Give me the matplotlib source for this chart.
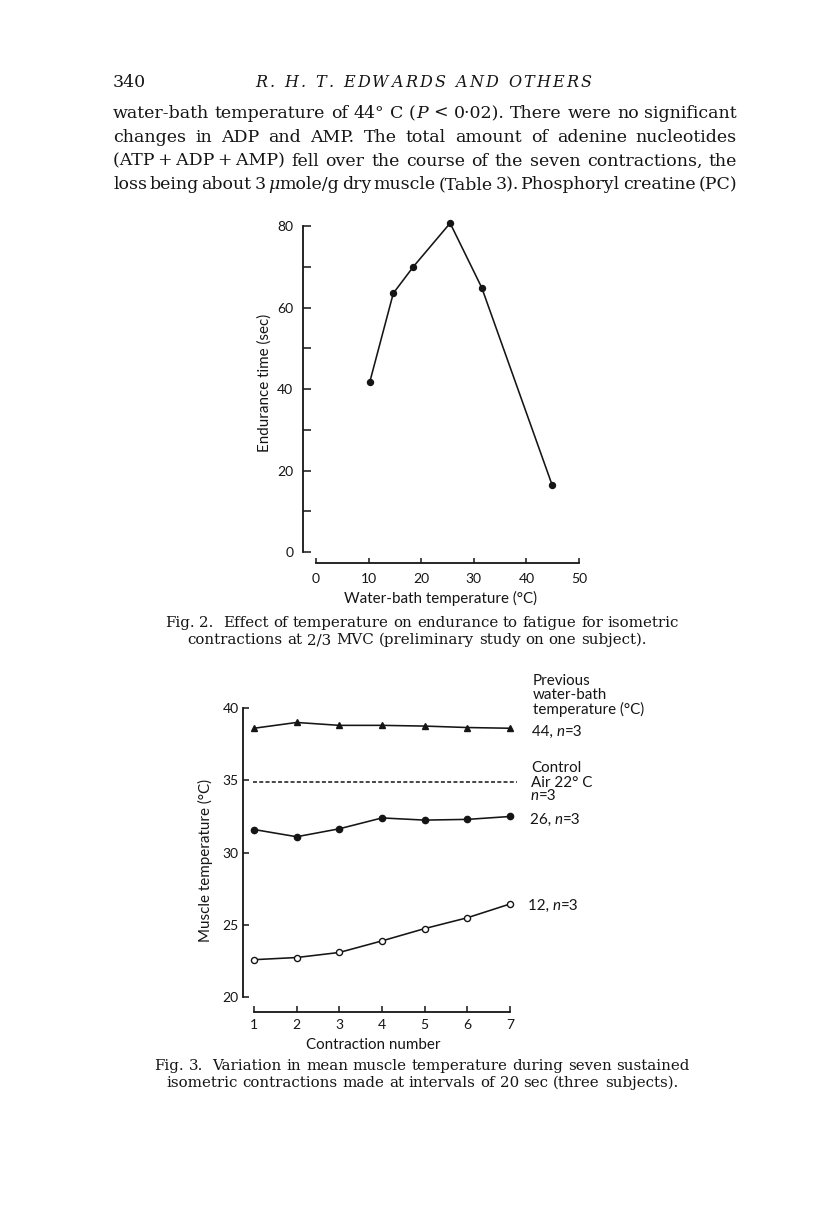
import matplotlib
matplotlib.use("Agg")
import matplotlib.pyplot as plt

W, H, DPI = 816, 1212, 100

# ---------------- data: Fig. 2 ----------------
fig2_temp = [10.2, 14.7, 18.5, 25.5, 31.5, 44.9]
fig2_endurance = [41.6, 63.5, 70.0, 80.7, 64.9, 16.4]
fig2_xticks = [0, 10, 20, 30, 40, 50]
fig2_yticks = [0, 20, 40, 60, 80]
fig2_yminor = [10, 30, 50, 70]

# ---------------- data: Fig. 3 ----------------
contraction = [1, 2, 3, 4, 5, 6, 7]
temp_44 = [38.6, 39.0, 38.8, 38.8, 38.75, 38.65, 38.6]
temp_26 = [31.6, 31.1, 31.65, 32.4, 32.25, 32.3, 32.5]
temp_12 = [22.6, 22.75, 23.1, 23.9, 24.75, 25.5, 26.45]
control_level = 34.9
control_span = [0.97, 7.16]
fig3_yticks = [20, 25, 30, 35, 40]

INK = '#151515'
plt.rcParams['font.family'] = ['Lato', 'DejaVu Sans']
plt.rcParams['font.size'] = 10

fig = plt.figure(figsize=(W / DPI, H / DPI), dpi=DPI)
fig.patch.set_facecolor('white')
R = fig.canvas.get_renderer()


def fx(x):
    return x / W


def fy(y):
    return 1 - y / H


SERIF = dict(family=['DejaVu Serif'], size=12.5, color=INK)
SERIF_I = dict(SERIF, style='italic')
HEAD_I = dict(family=['DejaVu Serif'], size=11.5, color=INK, style='italic')
CAP = dict(family=['DejaVu Serif'], size=10.85, color=INK)
SANS = dict(family=['Lato', 'DejaVu Sans'], size=10.9, color=INK)
SANS_I = dict(SANS, style='italic')


def run_width(runs):
    w = 0
    for s, p in runs:
        t = fig.text(0, 0, s, **p)
        w += t.get_window_extent(R).width
        t.remove()
    return w


def draw_runs(x, y, runs):
    for s, p in runs:
        t = fig.text(fx(x), fy(y), s, ha='left', va='baseline', **p)
        x += t.get_window_extent(R).width
    return x


def norm(word, p):
    return [(word, p)] if isinstance(word, str) else word


def justify(x0, x1, y, words, p):
    words = [norm(w, p) for w in words]
    ws = [run_width(w) for w in words]
    gap = (x1 - x0 - sum(ws)) / (len(words) - 1)
    x = x0
    for w, wd in zip(words, ws):
        draw_runs(x, y, w)
        x += wd + gap


def centered(xc, y, words, p):
    words = [norm(w, p) for w in words]
    sp = run_width([(' ', p)])
    ws = [run_width(w) for w in words]
    total = sum(ws) + sp * (len(words) - 1)
    x = xc - total / 2
    for w, wd in zip(words, ws):
        draw_runs(x, y, w)
        x += wd + sp


def tracked(x0, x1, y, text, p):
    ws = [run_width([(c, p)]) for c in text]
    extra = (x1 - x0 - sum(ws)) / (len(text) - 1)
    x = x0
    for c, wd in zip(text, ws):
        if c != ' ':
            fig.text(fx(x), fy(y), c, ha='left', va='baseline', **p)
        x += wd + extra


# ---------------- page header & body text ----------------
fig.text(fx(113), fy(87), '340', ha='left', va='baseline', **SERIF)
tracked(255, 592, 87, 'R. H. T. EDWARDS AND OTHERS', HEAD_I)

body = [
    ['water-bath', 'temperature', 'of', '44°', 'C', [('(', SERIF), ('P', SERIF_I)], '<', '0·02).',
     'There', 'were', 'no', 'significant'],
    ['changes', 'in', 'ADP', 'and', 'AMP.', 'The', 'total', 'amount', 'of', 'adenine', 'nucleotides'],
    ['(ATP\u2009+\u2009ADP\u2009+\u2009AMP)', 'fell', 'over', 'the', 'course', 'of', 'the', 'seven',
     'contractions,', 'the'],
    ['loss', 'being', 'about', '3', [('μ', SERIF_I), ('mole/g', SERIF)], 'dry', 'muscle', '(Table',
     '3).', 'Phosphoryl', 'creatine', '(PC)'],
]
for i, words in enumerate(body):
    justify(113, 737, 118 + i * 23.8, words, SERIF)

# ---------------- Fig. 2 ----------------
x0px, x50px = 316, 579
y0px, y80px = 552, 226
ax1_left, ax1_bottom = 303, 563
sx = (x50px - x0px) / 50
sy = (y0px - y80px) / 80
ax1 = fig.add_axes([fx(ax1_left), fy(ax1_bottom), (x50px - ax1_left) / W, (ax1_bottom - y80px) / H])
ax1.set_xlim(-(x0px - ax1_left) / sx, 50)
ax1.set_ylim(-(ax1_bottom - y0px) / sy, 80)
ax1.patch.set_visible(False)
for s in ('top', 'right'):
    ax1.spines[s].set_visible(False)
for s in ('left', 'bottom'):
    ax1.spines[s].set_linewidth(1.3)
    ax1.spines[s].set_color(INK)
ax1.spines['left'].set_bounds(0, 80)
ax1.spines['bottom'].set_bounds(0, 50)
ax1.set_xticks(fig2_xticks)
ax1.set_yticks(fig2_yticks)
ax1.set_yticks(fig2_yminor, minor=True)
ax1.tick_params(axis='y', which='both', direction='in', length=5.8, width=1.1, pad=7, colors=INK,
                labelsize=10)
ax1.tick_params(axis='x', which='both', direction='in', length=3.8, width=1.1, pad=7, colors=INK,
                labelsize=10)
ax1.plot(fig2_temp, fig2_endurance, '-o', color=INK, lw=1.15, ms=4.3, clip_on=False)
fig.text(fx(265), fy(383), 'Endurance time (sec)', rotation=90, ha='center', va='center', **SANS)
fig.text(fx(440), fy(598), 'Water-bath temperature (°C)', ha='center', va='center', **SANS)

centered(422, 627, ['Fig.', '2.', '', 'Effect', 'of', 'temperature', 'on', 'endurance', 'to', 'fatigue',
                    'for', 'isometric'], CAP)
centered(417, 644, ['contractions', 'at', '2/3', 'MVC', '(preliminary', 'study', 'on', 'one', 'subject).'], CAP)

# ---------------- Fig. 3 ----------------
x1px, x7px = 254, 510
y20px, y40px = 997.3, 708
ax2_left, ax2_bottom = 242.7, 1012
sx2 = (x7px - x1px) / 6
sy2 = (y20px - y40px) / 20
ax2 = fig.add_axes([fx(ax2_left), fy(ax2_bottom), (x7px - ax2_left) / W, (ax2_bottom - y40px) / H])
ax2.set_xlim(1 - (x1px - ax2_left) / sx2, 7)
ax2.set_ylim(20 - (ax2_bottom - y20px) / sy2, 40)
ax2.patch.set_visible(False)
for s in ('top', 'right'):
    ax2.spines[s].set_visible(False)
for s in ('left', 'bottom'):
    ax2.spines[s].set_linewidth(1.3)
    ax2.spines[s].set_color(INK)
ax2.spines['left'].set_bounds(20, 40)
ax2.spines['bottom'].set_bounds(1, 7)
ax2.set_xticks(contraction)
ax2.set_yticks(fig3_yticks)
ax2.tick_params(axis='y', direction='in', length=4.2, width=1.1, pad=3, colors=INK, labelsize=10)
ax2.tick_params(axis='x', direction='in', length=4.2, width=1.1, pad=5, colors=INK, labelsize=10)

ax2.plot(contraction, temp_44, '-^', color=INK, lw=1.15, ms=5.0, clip_on=False)
ax2.plot(control_span, [control_level] * 2, color=INK, lw=1.1, ls=(0, (2.6, 1.5)), clip_on=False)
ax2.plot(contraction, temp_26, '-o', color=INK, lw=1.15, ms=4.5, clip_on=False)
ax2.plot(contraction, temp_12, '-o', color=INK, lw=1.15, ms=4.4, mfc='white', mew=1.0, clip_on=False)

fig.text(fx(205), fy(860), 'Muscle temperature (°C)', rotation=90, ha='center', va='center', **SANS)
fig.text(fx(373), fy(1045), 'Contraction number', ha='center', va='center', **SANS)

for txt, y in [('Previous', 685), ('water-bath', 699), ('temperature (°C)', 714)]:
    fig.text(fx(533), fy(y), txt, ha='left', va='baseline', **SANS)
draw_runs(532, 736, [('44, ', SANS), ('n', SANS_I), ('=3', SANS)])
for runs, y in [([('Control', SANS)], 772), ([('Air 22° C', SANS)], 787), ([('n', SANS_I), ('=3', SANS)], 800)]:
    draw_runs(531, y, runs)
draw_runs(530, 824, [('26, ', SANS), ('n', SANS_I), ('=3', SANS)])
draw_runs(528, 910, [('12, ', SANS), ('n', SANS_I), ('=3', SANS)])

centered(422, 1070, ['Fig.', '3.', '', 'Variation', 'in', 'mean', 'muscle', 'temperature', 'during', 'seven',
                     'sustained'], CAP)
centered(422, 1087, ['isometric', 'contractions', 'made', 'at', 'intervals', 'of', '20', 'sec', '(three',
                     'subjects).'], CAP)

fig.savefig('out.png', dpi=DPI, facecolor='white')
